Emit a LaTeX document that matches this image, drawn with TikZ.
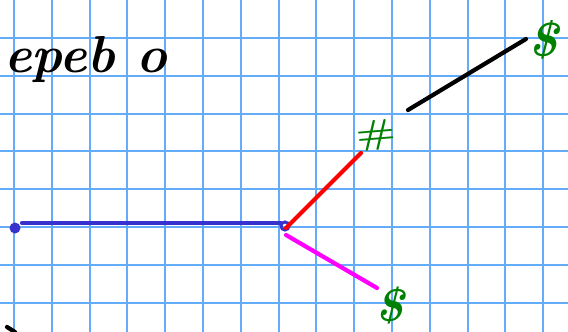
\documentclass[tikz,border=0pt]{standalone}
\definecolor{gridblue}{RGB}{100,172,250}
\definecolor{edgeblue}{RGB}{55,50,205}
\definecolor{labgreen}{RGB}{0,128,0}
\definecolor{edgemag}{RGB}{255,0,255}
\definecolor{edgered}{RGB}{255,0,0}
\begin{document}
\begin{tikzpicture}[x=1pt,y=-1pt,
  gridline/.style={draw=gridblue,line width=2pt},
  edge/.style={line width=4.2pt,line cap=round},
  lab/.style={text=labgreen,inner sep=0pt},
  hand/.style={inner sep=0pt,font=\fontsize{52}{52}\selectfont\bfseries\itshape}]
\useasboundingbox (0,0) rectangle (568,332);
\fill[white] (0,0) rectangle (568,332);
% grid paper
\foreach \i in {0,...,14} {\draw[gridline] ({14+37.8*\i},0) -- ({14+37.8*\i},332);}
\foreach \j in {0,...,7} {\draw[gridline] (0,{38+37.8*\j}) -- (568,{38+37.8*\j});}
% title
\node[hand,anchor=base west] (title) at (4,72) {epeb o};
% nodes
\node[circle,fill=edgeblue,minimum size=11pt,inner sep=0pt] (root) at (15,228) {};
\node[circle,draw=edgeblue,line width=3pt,minimum size=8pt,inner sep=0pt] (branch) at (285,226) {};
\coordinate (bl) at (22,223);
\coordinate (br) at (281,223);
\coordinate (rend) at (361,153);
\coordinate (mend) at (377,288);
\coordinate (bstart) at (408,110);
\coordinate (bend) at (526,39);
\coordinate (s1) at (7,327);
\coordinate (s2) at (15,332);
% edges
\draw[edge,edgeblue] (bl) -- (br);
\draw[edge,edgered] (286,228) -- (rend);
\draw[edge,edgemag] (286,235) -- (mend);
\draw[edge,black] (bstart) -- (bend);
\draw[edge,black] (s1) -- (s2);
% labels
\node[lab,font=\fontsize{34}{34}\selectfont\bfseries,xscale=1.25,rotate=6] (hash) at (376,135) {\#};
\node[lab,font=\fontsize{48}{48}\selectfont\bfseries\itshape] (dol1) at (543,40) {\$};
\node[lab,font=\fontsize{46}{46}\selectfont\bfseries\itshape] (dol2) at (390,306) {\$};
\end{tikzpicture}
\end{document}
